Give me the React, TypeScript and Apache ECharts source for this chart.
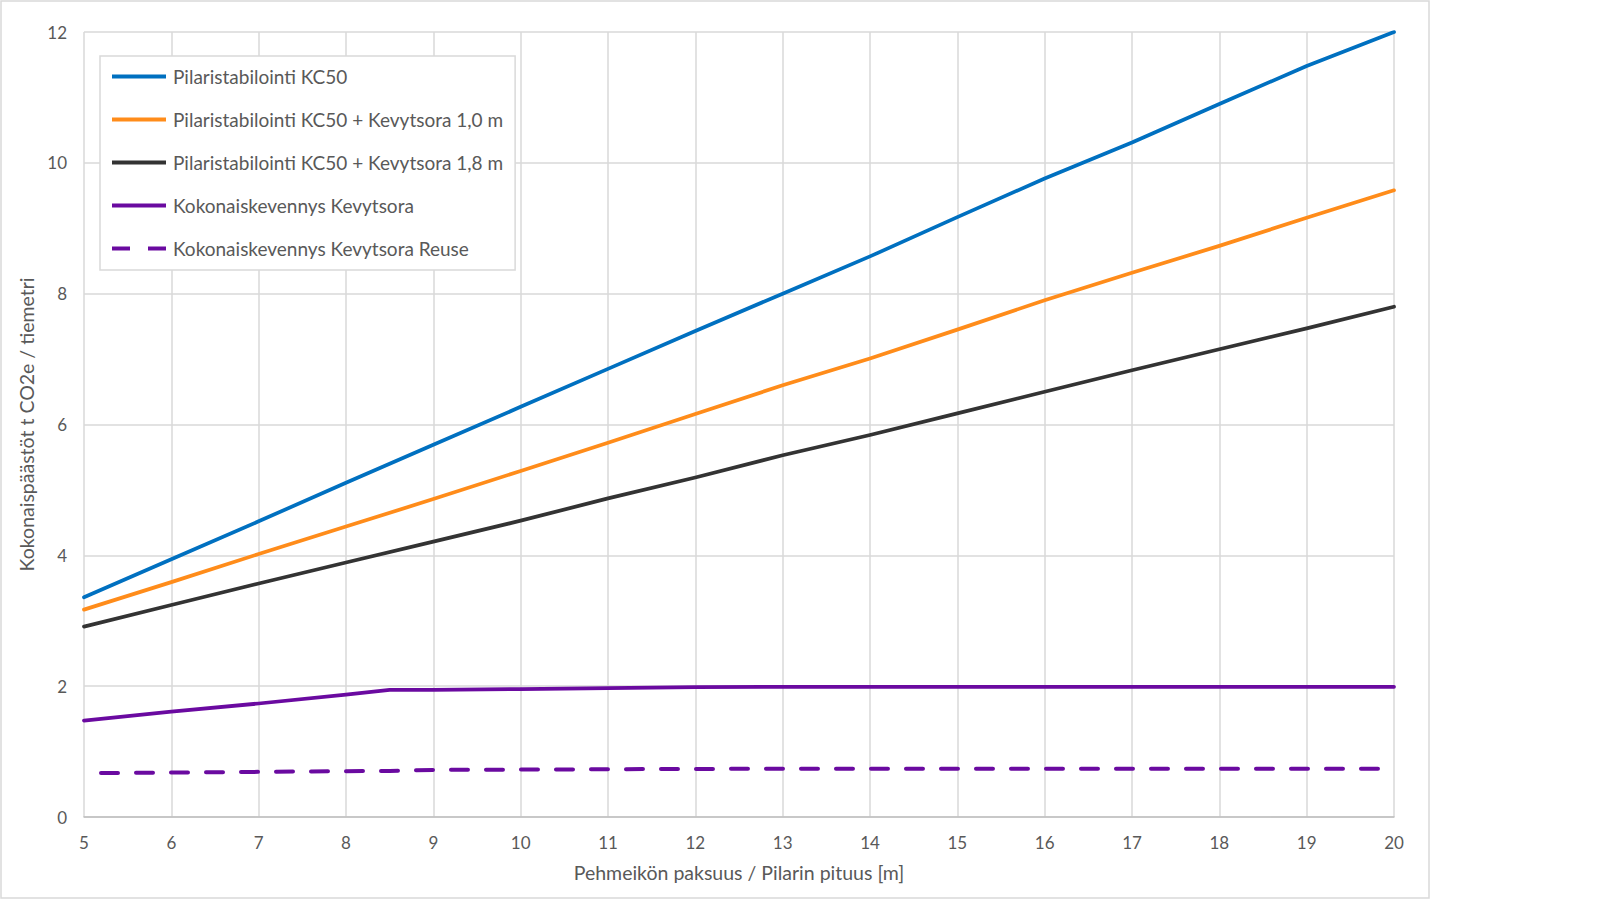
import React, { useEffect, useRef } from "react";
import * as echarts from "echarts";

// Soft-layer thickness / column length [m]
const xBlue = [5, 6, 7, 8, 9, 10, 11, 12, 13, 14, 15, 16, 17, 18, 19, 20];
const kc50 = [3.36, 3.94, 4.52, 5.11, 5.69, 6.27, 6.85, 7.43, 8.0, 8.57, 9.17, 9.76, 10.31, 10.9, 11.48, 12.0];
const kc50Kevytsora10 = [3.17, 3.59, 4.02, 4.44, 4.86, 5.29, 5.72, 6.16, 6.6, 7.01, 7.45, 7.9, 8.32, 8.73, 9.16, 9.58];
const kc50Kevytsora18 = [2.91, 3.24, 3.57, 3.89, 4.21, 4.53, 4.87, 5.19, 5.53, 5.84, 6.17, 6.5, 6.83, 7.15, 7.47, 7.8];

const xKevennys = [5, 6, 7, 8, 8.5, 9, 10, 11, 12, 13, 14, 15, 16, 17, 18, 19, 20];
const kokonaiskevennys = [1.475, 1.61, 1.735, 1.87, 1.945, 1.945, 1.955, 1.97, 1.985, 1.99, 1.99, 1.99, 1.99, 1.99, 1.99, 1.99, 1.99];
const kokonaiskevennysReuse = [0.67, 0.68, 0.69, 0.7, 0.705, 0.72, 0.725, 0.73, 0.735, 0.737, 0.737, 0.737, 0.737, 0.737, 0.737, 0.737, 0.737];

const seriesNames = [
  "Pilaristabilointi KC50",
  "Pilaristabilointi KC50 + Kevytsora 1,0 m",
  "Pilaristabilointi KC50 + Kevytsora 1,8 m",
  "Kokonaiskevennys Kevytsora",
  "Kokonaiskevennys Kevytsora Reuse",
];
const seriesColors = ["#0070c0", "#ff8c1a", "#333333", "#6a0aa0", "#6a0aa0"];

const xAxisTitle = "Pehmeikön paksuus / Pilarin pituus [m]";
const yAxisTitle = "Kokonaispäästöt t CO2e / tiemetri";

const FONT = "Lato, 'Open Sans', sans-serif";
const TEXT = "#595959";
const GRID = "#d9d9d9";

// Legend keys: a solid bar, and two dashes for the dashed series
const ICON_SOLID = "path://M0 0H54V4H0Z";
const ICON_DASHED = "path://M0 0H18V4H0ZM36 0H54V4H36Z";

const pairs = (xs: number[], ys: number[]) => xs.map((x, i) => [x, ys[i]]);

export default function App() {
  const ref = useRef<HTMLDivElement>(null);

  useEffect(() => {
    if (!ref.current) return;
    const chart = echarts.init(ref.current, undefined, { renderer: "svg" });

    const solid = (name: string, color: string, data: number[][]) => ({
      name,
      type: "line",
      data,
      symbol: "none",
      showSymbol: false,
      clip: true,
      lineStyle: { color, width: 3.75, cap: "round", join: "round" },
      itemStyle: { color },
      z: 3,
    });

    chart.setOption({
      animation: false,
      backgroundColor: "#ffffff",
      textStyle: { fontFamily: FONT },
      graphic: [
        {
          type: "rect",
          shape: { x: 1, y: 1, width: 1428, height: 897 },
          style: { fill: "none", stroke: GRID, lineWidth: 1.5 },
          silent: true,
          z: -1,
        },
      ],
      grid: { left: 84, right: 206, top: 32, bottom: 83, containLabel: false },
      legend: {
        orient: "vertical",
        left: 100,
        top: 56,
        padding: [11, 12, 12, 12],
        itemWidth: 54,
        itemHeight: 4,
        itemGap: 24,
        backgroundColor: "#ffffff",
        borderColor: GRID,
        borderWidth: 1.5,
        data: seriesNames.map((name, i) => ({
          name,
          icon: i === 4 ? ICON_DASHED : ICON_SOLID,
        })),
        textStyle: { fontFamily: FONT, fontSize: 19, color: TEXT, padding: [0, 0, 0, 2] },
        z: 10,
      },
      xAxis: {
        type: "value",
        min: 5,
        max: 20,
        interval: 1,
        name: xAxisTitle,
        nameLocation: "middle",
        nameGap: 45,
        nameTextStyle: { fontFamily: FONT, fontSize: 19.5, color: TEXT },
        axisLine: { show: true, lineStyle: { color: "#bfbfbf", width: 1.5 } },
        axisTick: { show: false },
        axisLabel: { fontFamily: FONT, fontSize: 17, color: TEXT, margin: 17 },
        splitLine: { show: true, lineStyle: { color: GRID, width: 1.5 } },
      },
      yAxis: {
        type: "value",
        min: 0,
        max: 12,
        interval: 2,
        name: yAxisTitle,
        nameLocation: "middle",
        nameGap: 46,
        nameTextStyle: { fontFamily: FONT, fontSize: 19.5, color: TEXT },
        axisLine: { show: false },
        axisTick: { show: false },
        axisLabel: { fontFamily: FONT, fontSize: 17, color: TEXT, margin: 17 },
        splitLine: { show: true, lineStyle: { color: GRID, width: 1.5 } },
      },
      series: [
        solid(seriesNames[0], seriesColors[0], pairs(xBlue, kc50)),
        solid(seriesNames[1], seriesColors[1], pairs(xBlue, kc50Kevytsora10)),
        solid(seriesNames[2], seriesColors[2], pairs(xBlue, kc50Kevytsora18)),
        solid(seriesNames[3], seriesColors[3], pairs(xKevennys, kokonaiskevennys)),
        {
          name: seriesNames[4],
          type: "line",
          data: pairs(xKevennys, kokonaiskevennysReuse),
          symbol: "none",
          showSymbol: false,
          clip: true,
          lineStyle: {
            color: seriesColors[4],
            width: 4,
            type: [17, 18],
            dashOffset: 18,
            cap: "round",
          },
          itemStyle: { color: seriesColors[4] },
          z: 3,
        },
      ],
    });

    return () => chart.dispose();
  }, []);

  return (
    <div
      ref={ref}
      style={{ position: "fixed", left: 0, top: 0, width: 1600, height: 900, background: "#fff" }}
    />
  );
}
